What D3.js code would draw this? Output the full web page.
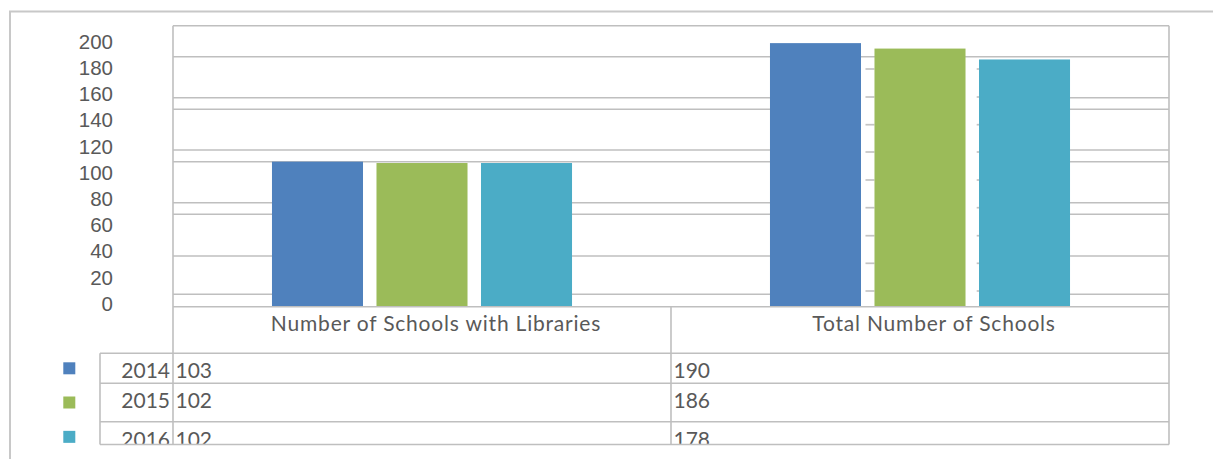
<!DOCTYPE html>
<html><head><meta charset="utf-8">
<script src="https://cdn.jsdelivr.net/npm/d3@7/dist/d3.min.js"></script>
<style>html,body{margin:0;padding:0;background:#fff;overflow:hidden}</style>
</head><body>
<svg id="chart" width="1213" height="459"></svg>
<script>
// ---- data ----
const categories = ["Number of Schools with Libraries", "Total Number of Schools"];
const years = ["2014", "2015", "2016"];
const values2014 = [103, 190];
const values2015 = [102, 186];
const values2016 = [102, 178];
const yTickValues = [0, 20, 40, 60, 80, 100, 120, 140, 160, 180, 200];
const seriesColors = ["#4F81BD", "#9BBB59", "#4BACC6"];

// ---- layout constants (decoration of the original rendering) ----
const gridRowsY = [56.7, 97.7, 109.3, 150, 161.7, 202.7, 214.3, 256, 294.3];
const faintRowsY = [69, 97, 124.7, 152, 180, 207.7, 235.7, 263.3, 291];
const tableRowTops = [353.3, 383.3, 421.7];
const tableRowBottoms = [383.3, 421.7, 452];

const series = [values2014, values2015, values2016];
const L = 173, R = 1169, T = 25.7, B = 306.7, TB = 444.5, BASE = 306;
const grid = "#bfbfbf", txt = "#595959";
const tableFont = "Lato, 'Open Sans', sans-serif";

const svg = d3.select("#chart");

// outer chart border
svg.append("path").attr("d", `M10,1000 V11.5 H1215`)
  .attr("fill", "none").attr("stroke", "#c8c8c8").attr("stroke-width", 2);

const x0 = d3.scaleBand().domain(categories).range([L, R]).padding(0);
const x1 = d3.scaleBand().domain(years).range([0, x0.bandwidth()])
  .paddingInner(0.129).paddingOuter(0.947);
const y = d3.scaleLinear().domain([0, 200]).range([302, 29.5]);
const yLabel = d3.scaleLinear().domain([0, 200]).range([303, 41]);

// gridlines
svg.append("g").selectAll("line").data(gridRowsY).join("line")
  .attr("x1", L).attr("x2", R).attr("y1", d => d).attr("y2", d => d)
  .attr("stroke", grid).attr("stroke-width", 1.6);

// group backgrounds (the gaps between bars hide gridlines)
categories.forEach((c, ci) => {
  const vals = series.map(s => s[ci]);
  const gx = x0(c) + x1(years[0]);
  const gw = x1(years[years.length - 1]) + x1.bandwidth() - x1(years[0]);
  svg.append("rect").attr("x", gx).attr("y", y(d3.min(vals)) + 1)
    .attr("width", gw).attr("height", BASE - y(d3.min(vals)) - 1).attr("fill", "#fff");
});

// faint short segments in gaps of the second group
{
  const c = categories[1];
  const segs = [[x0(c) + x1(years[1]) - 9, x0(c) + x1(years[1])],
                [x0(c) + x1(years[2]) - 2.3, x0(c) + x1(years[2])]];
  segs.forEach(([a, b]) => {
    svg.append("g").selectAll("line").data(faintRowsY).join("line")
      .attr("x1", a).attr("x2", b).attr("y1", d => d).attr("y2", d => d)
      .attr("stroke", "#c4c4c4").attr("stroke-width", 1.7);
  });
}

// bars
years.forEach((yr, si) => {
  svg.append("g").selectAll("rect").data(categories).join("rect")
    .attr("x", c => x0(c) + x1(yr))
    .attr("y", (c, ci) => y(series[si][ci]))
    .attr("width", x1.bandwidth())
    .attr("height", (c, ci) => BASE - y(series[si][ci]))
    .attr("fill", seriesColors[si]);
});

// y axis labels
const yAxis = d3.axisLeft(yLabel).tickValues(yTickValues).tickSize(0).tickPadding(0);
const ga = svg.append("g").attr("transform", "translate(113,0)").call(yAxis);
ga.select(".domain").remove();
ga.selectAll("text").attr("font-family", "'Liberation Sans', Arial, sans-serif")
  .attr("font-size", 20.5).attr("fill", txt).attr("dy", "0.36em");

// plot frame & table lines
const lines = svg.append("g").attr("stroke", grid).attr("stroke-width", 1.6).attr("fill", "none");
lines.append("line").attr("x1", L).attr("x2", R).attr("y1", T).attr("y2", T);
lines.append("line").attr("x1", L).attr("x2", R).attr("y1", B).attr("y2", B);
tableRowTops.concat([TB]).forEach(ry => {
  lines.append("line").attr("x1", 100).attr("x2", R).attr("y1", ry).attr("y2", ry);
});
lines.append("line").attr("x1", 100).attr("x2", 100).attr("y1", tableRowTops[0]).attr("y2", TB);
lines.append("line").attr("x1", L).attr("x2", L).attr("y1", T).attr("y2", TB);
lines.append("line").attr("x1", R).attr("x2", R).attr("y1", T).attr("y2", TB);
lines.append("line").attr("x1", x0(categories[1])).attr("x2", x0(categories[1])).attr("y1", B).attr("y2", TB);

// category labels
svg.append("g").selectAll("text").data(categories).join("text")
  .attr("x", c => x0(c) + x0.bandwidth() / 2 + 14).attr("y", 331)
  .attr("text-anchor", "middle").attr("font-family", tableFont)
  .attr("font-size", 21).attr("letter-spacing", "0.8px").attr("fill", txt).text(c => c);

// data table
svg.append("clipPath").attr("id", "tclip").append("rect")
  .attr("x", 0).attr("y", 0).attr("width", 1213).attr("height", TB - 0.8);
const tg = svg.append("g").attr("clip-path", "url(#tclip)");
years.forEach((yr, si) => {
  const top = tableRowTops[si], bot = tableRowBottoms[si];
  tg.append("rect").attr("x", 63.3).attr("y", (top + bot) / 2 - 6)
    .attr("width", 12).attr("height", 12).attr("fill", seriesColors[si]);
  tg.append("text").attr("x", 170).attr("y", top + 25).attr("text-anchor", "end")
    .attr("font-family", tableFont).attr("font-size", 21).attr("fill", txt).text(yr);
  tg.selectAll(null).data(categories).join("text")
    .attr("x", c => x0(c) + 2.5).attr("y", top + 25)
    .attr("font-family", tableFont).attr("font-size", 21).attr("fill", txt)
    .text((c, ci) => series[si][ci]);
});
</script>
</body></html>
